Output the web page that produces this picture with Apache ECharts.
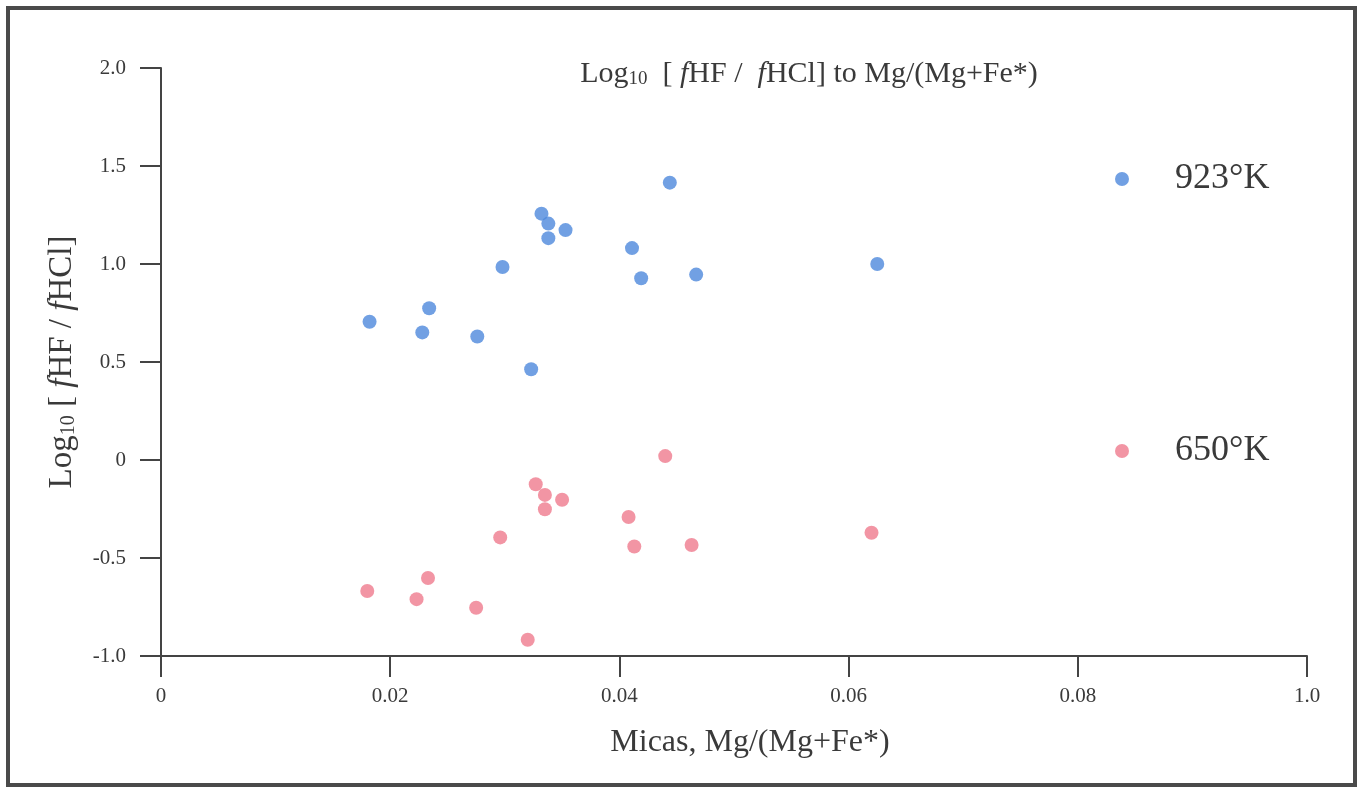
<!DOCTYPE html>
<html>
<head>
<meta charset="utf-8">
<title>Log10 [fHF / fHCl] to Mg/(Mg+Fe*)</title>
<script src="https://cdn.jsdelivr.net/npm/echarts@6/dist/echarts.min.js"></script>
<style>
  html, body { margin: 0; padding: 0; background: #fff; }
  #container { width: 1363px; height: 789px; }
</style>
</head>
<body>
<div id="container"></div>
<script>
// x values (Mg/(Mg+Fe*)) and log10 values
var mgRatio923 = [0.0182, 0.0228, 0.0234, 0.0276, 0.0298, 0.0323, 0.0332, 0.0338, 0.0338, 0.0353, 0.0411, 0.0419, 0.0444, 0.0467, 0.0625];
var logF923    = [0.705, 0.651, 0.774, 0.630, 0.985, 0.463, 1.257, 1.206, 1.132, 1.173, 1.081, 0.927, 1.415, 0.946, 1.000];

var mgRatio650 = [0.0180, 0.0223, 0.0233, 0.0275, 0.0296, 0.0320, 0.0327, 0.0335, 0.0335, 0.0350, 0.0408, 0.0413, 0.0440, 0.0463, 0.0620];
var logF650    = [-0.668, -0.710, -0.602, -0.754, -0.395, -0.917, -0.124, -0.178, -0.251, -0.203, -0.291, -0.441, 0.020, -0.434, -0.371];

var xTicks = [0, 0.02, 0.04, 0.06, 0.08, 0.1];
var xTickLabels = ['0', '0.02', '0.04', '0.06', '0.08', '1.0'];
var yTicks = [-1, -0.5, 0, 0.5, 1, 1.5, 2];
var yTickLabels = ['-1.0', '-0.5', '0', '0.5', '1.0', '1.5', '2.0'];

var seriesNames = ['923\u00b0K', '650\u00b0K'];
var colors = ['#4d88dc', '#ef7b8d'];

function pairs(xs, ys) {
    var out = [];
    for (var i = 0; i < xs.length; i++) out.push([xs[i], ys[i]]);
    return out;
}

function tickLabel(ticks, labels) {
    return function (v) {
        for (var i = 0; i < ticks.length; i++) {
            if (Math.abs(ticks[i] - v) < 1e-9) return labels[i];
        }
        return '';
    };
}

var font = '"Liberation Serif", "DejaVu Serif", serif';
var ink = '#3a3a3a';
var axisInk = '#444';

// rich styles for the "Log10 [fHF / fHCl]" texts
function richStyles(size) {
    var base = { fontFamily: font, fontSize: size, fontWeight: 'normal', color: ink, verticalAlign: 'bottom', lineHeight: size + 4 };
    return {
        a: base,
        i: Object.assign({}, base, { fontStyle: 'italic' }),
        s: Object.assign({}, base, { fontSize: Math.round(size * 0.62), lineHeight: size - 4 })
    };
}

var dom = document.getElementById('container');
var myChart = echarts.init(dom);
var option;

option = {
    backgroundColor: '#fff',
    textStyle: { fontFamily: font },
    title: {
        text: '{a|Log}{s|10}{a|  [ }{i|f}{a|HF /  }{i|f}{a|HCl] to Mg/(Mg+Fe*)}',
        left: 804,
        top: 50,
        textAlign: 'center',
        textStyle: { fontWeight: 'normal', rich: richStyles(30) }
    },
    legend: {
        orient: 'vertical',
        left: 1110,
        top: 153,
        itemWidth: 14,
        itemHeight: 14,
        itemGap: 230,
        icon: 'circle',
        data: seriesNames,
        textStyle: {
            fontFamily: font,
            fontSize: 36,
            lineHeight: 36,
            color: ink,
            padding: [6, 0, 0, 41]
        }
    },
    grid: {
        left: 161,
        right: 56,
        top: 68,
        bottom: 133,
        containLabel: false
    },
    xAxis: {
        type: 'value',
        min: 0,
        max: 0.1,
        interval: 0.02,
        name: 'Micas, Mg/(Mg+Fe*)',
        nameLocation: 'middle',
        nameGap: 71,
        nameTextStyle: { fontFamily: font, fontSize: 32, color: ink, padding: [0, 0, 0, 32] },
        axisLine: { show: true, onZero: false, lineStyle: { color: axisInk, width: 2 } },
        axisTick: { show: true, inside: false, length: 21, lineStyle: { color: axisInk, width: 2 } },
        axisLabel: {
            margin: 30,
            fontFamily: font,
            fontSize: 21,
            color: ink,
            formatter: tickLabel(xTicks, xTickLabels)
        },
        splitLine: { show: false }
    },
    yAxis: {
        type: 'value',
        min: -1,
        max: 2,
        interval: 0.5,
        name: '{a|Log}{s|10}{a| [ }{i|f}{a|HF / }{i|f}{a|HCl]}',
        nameLocation: 'middle',
        nameGap: 82,
        nameRotate: 90,
        nameTextStyle: { rich: richStyles(33) },
        axisLine: { show: true, onZero: false, lineStyle: { color: axisInk, width: 2 } },
        axisTick: { show: true, inside: false, length: 21, lineStyle: { color: axisInk, width: 2 } },
        axisLabel: {
            margin: 35,
            fontFamily: font,
            fontSize: 21,
            color: ink,
            formatter: tickLabel(yTicks, yTickLabels)
        },
        splitLine: { show: false }
    },
    graphic: [
        {
            type: 'rect',
            silent: true,
            shape: { x: 8, y: 8, width: 1347, height: 777 },
            style: { fill: null, stroke: '#4a4a4a', lineWidth: 4 }
        }
    ],
    series: [
        {
            name: seriesNames[0],
            type: 'scatter',
            symbol: 'circle',
            symbolSize: 14,
            itemStyle: { color: colors[0] },
            data: pairs(mgRatio923, logF923)
        },
        {
            name: seriesNames[1],
            type: 'scatter',
            symbol: 'circle',
            symbolSize: 14,
            itemStyle: { color: colors[1] },
            data: pairs(mgRatio650, logF650)
        }
    ]
};

if (option && typeof option === 'object') {
    myChart.setOption(option);
}
</script>
</body>
</html>
